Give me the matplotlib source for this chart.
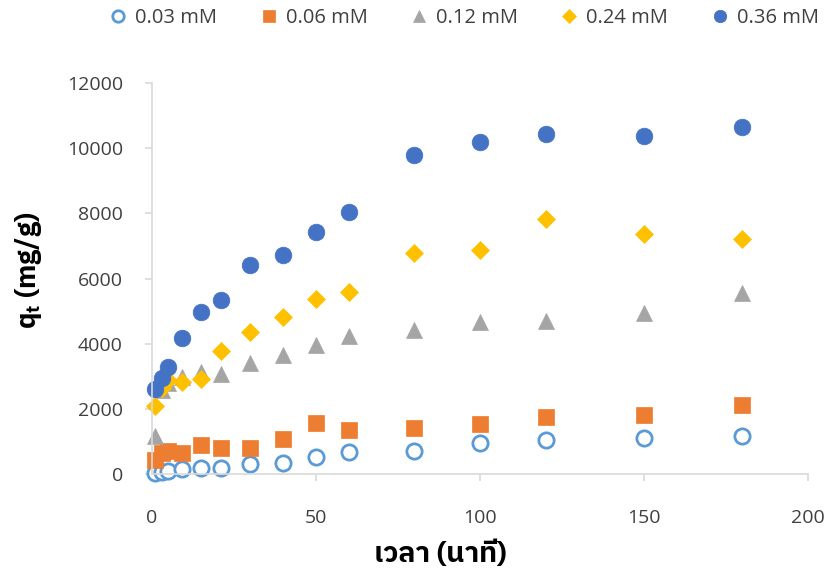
import matplotlib
matplotlib.use("Agg")
import matplotlib.pyplot as plt

time_min = [1, 3, 5, 9, 15, 21, 30, 40, 50, 60, 80, 100, 120, 150, 180]
labels = ["0.03 mM", "0.06 mM", "0.12 mM", "0.24 mM", "0.36 mM"]
q_003 = [40, 70, 100, 145, 175, 195, 300, 330, 510, 665, 705, 940, 1045, 1115, 1165]
q_006 = [430, 655, 715, 635, 880, 790, 790, 1085, 1555, 1350, 1400, 1545, 1760, 1810, 2105]
q_012 = [1180, 2580, 2800, 2990, 3120, 3060, 3420, 3640, 3950, 4220, 4420, 4660, 4690, 4940, 5560]
q_024 = [2090, 2650, 2880, 2820, 2910, 3790, 4370, 4810, 5370, 5580, 6775, 6885, 7830, 7360, 7225]
q_036 = [2600, 2950, 3290, 4180, 4975, 5325, 6410, 6710, 7440, 8035, 9790, 10190, 10435, 10375, 10650]

NUM_FONT = ["Open Sans", "Noto Sans", "DejaVu Sans"]
THAI_FONT = ["IBM Plex Sans Thai", "Noto Sans Thai", "Noto Sans", "DejaVu Sans"]
TXT = "#404040"

fig = plt.figure(figsize=(8.29, 5.71), dpi=100)
ax = fig.add_axes([152/829, 1-474/571, (808-152)/829, (474-83)/571])

styles = [
    dict(marker="o", mfc="white", mec="#5B9BD5", mew=2.0, ms=11),
    dict(marker="s", mfc="#ED7D31", mec="#ED7D31", mew=0.5, ms=11),
    dict(marker="^", mfc="#A5A5A5", mec="#A5A5A5", mew=0.5, ms=11),
    dict(marker="D", mfc="#FFC000", mec="#FFC000", mew=0.5, ms=9.5),
    dict(marker="o", mfc="#4472C4", mec="#4472C4", mew=0.5, ms=12),
]
series = [q_003, q_006, q_012, q_024, q_036]
handles = []
for s, st, lab in zip(series, styles, labels):
    h, = ax.plot(time_min, s, linestyle="none", label=lab, clip_on=False, **st)
    handles.append(h)

ax.set_xlim(0, 200)
ax.set_ylim(0, 12000)
ax.set_xticks([0, 50, 100, 150, 200])
ax.set_yticks(range(0, 12001, 2000))
for sp in ["top", "right"]:
    ax.spines[sp].set_visible(False)
for sp in ["left", "bottom"]:
    ax.spines[sp].set_color("#D9D9D9")
    ax.spines[sp].set_linewidth(1.2)
ax.tick_params(axis="both", direction="out", length=5, color="#D9D9D9", width=1.2,
               labelsize=14, labelcolor=TXT)
ax.tick_params(axis="x", pad=20)
ax.tick_params(axis="y", pad=16)
for t in ax.get_xticklabels() + ax.get_yticklabels():
    t.set_fontfamily(NUM_FONT)

ax.set_xlabel("เวลา (นาที)", fontsize=20.5, fontweight="bold", family=THAI_FONT, color="black")
ax.xaxis.set_label_coords((440 - 152) / 656, (474 - 541) / 391)
ax.set_ylabel(r"q$_\mathregular{t}$ (mg/g)", fontsize=19.5, fontweight="bold", family=THAI_FONT, color="black")
ax.yaxis.set_label_coords((44 - 152) / 656, (474 - 270) / 391)

leg = fig.legend(handles=handles, loc="upper center", bbox_to_anchor=(0.559, 1.018), ncol=5,
                 frameon=False, markerscale=0.75, handletextpad=0.35,
                 columnspacing=2.05, handlelength=1.0,
                 prop={"family": NUM_FONT, "size": 14.5})
for t in leg.get_texts():
    t.set_color(TXT)

fig.savefig("out.png", dpi=100)
